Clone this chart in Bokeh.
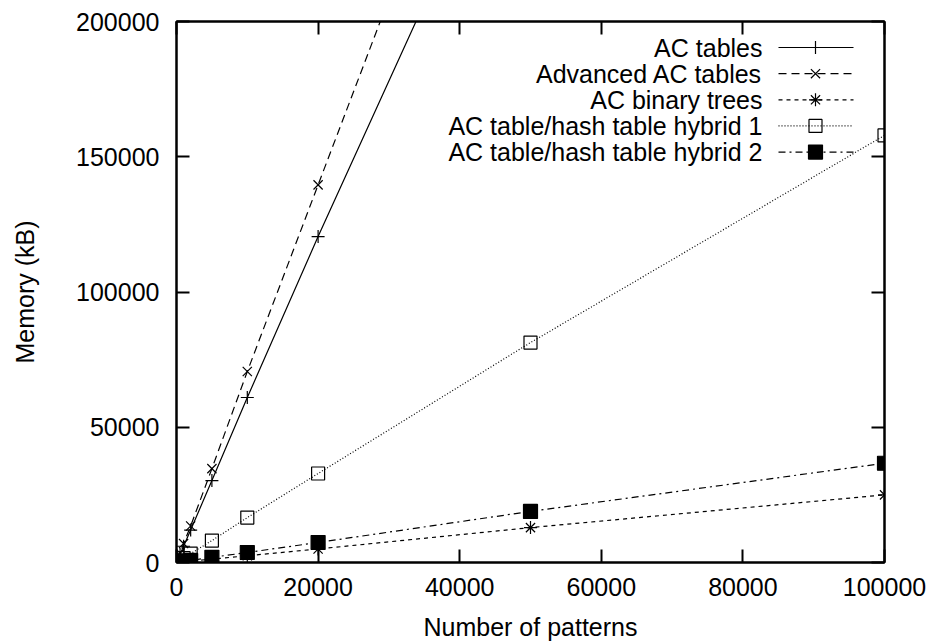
from bokeh.plotting import figure
from bokeh.models import Range1d, LinearAxis, FixedTicker, BasicTickFormatter, CustomJSTickFormatter
from bokeh.core.properties import value
from bokeh.embed import file_html
from bokeh.resources import INLINE

# ---- data ----
patterns = [100, 200, 500, 1000, 2000, 5000, 10000, 20000, 50000, 100000]
ac_tables = [600, 1200, 3000, 6000, 12000, 30300, 61000, 120500, 293000, 585000]
adv_ac_tables = [700, 1400, 3500, 7000, 13500, 34700, 70600, 139600, 346000, 690000]
ac_binary_trees = [30, 60, 130, 260, 510, 1250, 2500, 5000, 12900, 25000]
hybrid1 = [170, 330, 830, 1650, 3300, 8100, 16600, 32900, 81300, 157900]
hybrid2 = [40, 75, 190, 370, 750, 1900, 3700, 7400, 18900, 36700]

series_names = ["AC tables", "Advanced AC tables", "AC binary trees",
                "AC table/hash table hybrid 1", "AC table/hash table hybrid 2"]
x_ticks = [0, 20000, 40000, 60000, 80000, 100000]
y_ticks = [0, 50000, 100000, 150000, 200000]

FONT = "Liberation Sans"
FS = "25px"

# ---- layout ----
W, H = 935, 644
BL, BR, BT, BB = 176, 51, 21, 82
FW, FH = W - BL - BR, H - BT - BB

p = figure(width=W, height=H, output_backend="svg", toolbar_location=None,
           x_range=Range1d(0, 100000), y_range=Range1d(0, 200000),
           min_border_left=BL, min_border_right=BR, min_border_top=BT,
           min_border_bottom=BB, x_axis_type=None, y_axis_type=None)
p.xgrid.visible = False
p.ygrid.visible = False
p.outline_line_color = "black"
p.outline_line_width = 2
p.background_fill_color = "white"
p.border_fill_color = "white"

# frame-pixel ranges for the in-plot legend
p.extra_x_ranges = {"px": Range1d(0, FW)}
p.extra_y_ranges = {"px": Range1d(0, FH)}


def style_axis(ax, ticks, show_labels):
    ax.ticker = FixedTicker(ticks=ticks)
    ax.major_tick_in = 13
    ax.major_tick_out = 0
    ax.major_tick_line_width = 2
    ax.major_tick_line_color = "black"
    ax.minor_tick_line_color = None
    ax.axis_line_width = 2
    ax.axis_line_color = "black"
    ax.major_label_text_font = FONT
    ax.major_label_text_color = "black"
    ax.major_label_text_font_size = FS
    if show_labels:
        ax.formatter = BasicTickFormatter(use_scientific=False)
    else:
        ax.formatter = CustomJSTickFormatter(code="return '';")
        ax.major_label_standoff = 0
    ax.axis_label_text_font = FONT
    ax.axis_label_text_font_size = FS
    ax.axis_label_text_font_style = "normal"
    ax.axis_label_text_color = "black"


xb = LinearAxis(axis_label="Number of patterns")
style_axis(xb, x_ticks, True)
xb.major_label_standoff = 15
xb.axis_label_standoff = 14
p.add_layout(xb, "below")

yl = LinearAxis(axis_label="Memory (kB)")
style_axis(yl, y_ticks, True)
yl.major_label_standoff = 17
yl.axis_label_standoff = 34
p.add_layout(yl, "left")

xt = LinearAxis()
style_axis(xt, x_ticks, False)
p.add_layout(xt, "above")

yr = LinearAxis()
style_axis(yr, y_ticks, False)
p.add_layout(yr, "right")

# ---- series ----
styles = [
    (ac_tables, None, "cross", 13, "black", None),
    (adv_ac_tables, "8 5", "x", 13, "black", None),
    (ac_binary_trees, "4 4", "asterisk", 13, "black", None),
    (hybrid1, "1 2", "square", 13, "black", None),
    (hybrid2, "7 4 2 4", "square", 14, "black", "black"),
]

LW = 1.2
for ys, dash, marker, size, lc, fc in styles:
    kw = {}
    if dash:
        kw["line_dash"] = dash
    p.line(patterns, ys, line_color="black", line_width=LW, **kw)
    p.scatter(patterns, ys, marker=marker, size=size, line_color=lc,
              fill_color=fc, line_width=LW)

# ---- legend (gnuplot style: text left, sample right) ----
row_y = [FH - 26, FH - 52.2, FH - 78.3, FH - 104.4, FH - 130.6]
text_x = FW - 122
seg_x0, seg_x1, mk_x = FW - 106, FW - 31, FW - 69

p.text(x=[text_x] * 5, y=row_y, text=series_names, x_range_name="px",
       y_range_name="px", text_align="right", text_baseline="middle",
       text_font=value(FONT), text_font_size=FS, text_color="black")

for (ys, dash, marker, size, lc, fc), ry in zip(styles, row_y):
    kw = {}
    if dash:
        kw["line_dash"] = dash
    p.line([seg_x0, seg_x1], [ry, ry], x_range_name="px", y_range_name="px",
           line_color="black", line_width=LW, **kw)
    p.scatter([mk_x], [ry], x_range_name="px", y_range_name="px",
              marker=marker, size=size, line_color=lc, fill_color=fc,
              line_width=LW)

open("out.html", "w").write(file_html(p, INLINE))
